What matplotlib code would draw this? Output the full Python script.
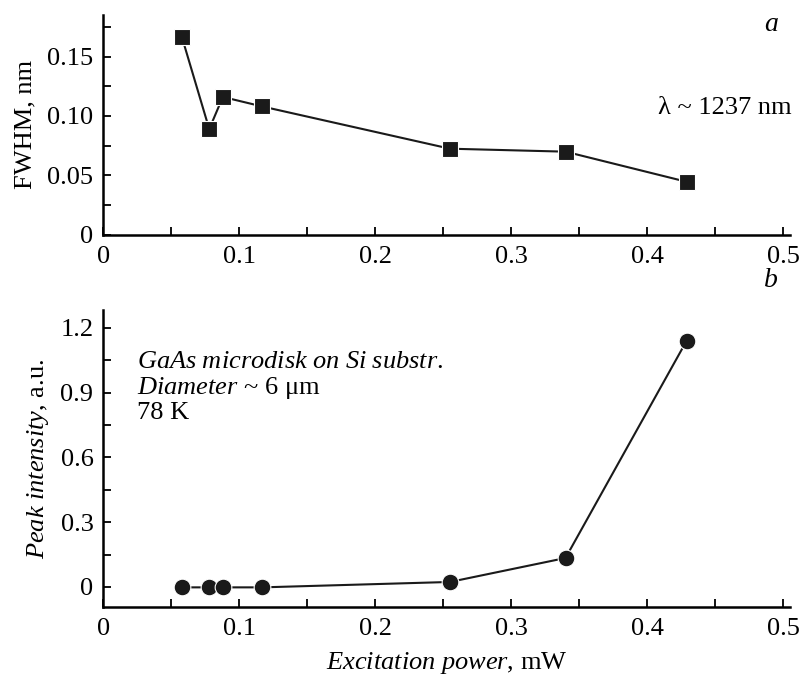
import matplotlib
matplotlib.use("Agg")
import matplotlib.pyplot as plt
from matplotlib.ticker import MultipleLocator

# --- data ---
power = [0.058, 0.078, 0.088, 0.117, 0.255, 0.340, 0.429]
fwhm = [0.166, 0.089, 0.116, 0.108, 0.0725, 0.070, 0.0447]
peak = [-0.002, -0.002, -0.002, -0.002, 0.023, 0.134, 1.14]

plt.rcParams["font.family"] = ["Liberation Serif", "DejaVu Serif"]
plt.rcParams["mathtext.fontset"] = "custom"
plt.rcParams["mathtext.rm"] = "Liberation Serif"
plt.rcParams["mathtext.it"] = "Liberation Serif:italic"
plt.rcParams["font.size"] = 19

fig = plt.figure(figsize=(8.06, 6.77), dpi=100)
ax1 = fig.add_axes([0.128, 0.653, 0.852, 0.325])
ax2 = fig.add_axes([0.128, 0.1034, 0.852, 0.4386])


def style(ax):
    for s in ("top", "right"):
        ax.spines[s].set_visible(False)
    for s in ("left", "bottom"):
        ax.spines[s].set_linewidth(1.8)
    ax.tick_params(which="both", direction="in", length=6, width=1.3, labelsize=19)
    ax.tick_params(axis="x", pad=8)
    ax.tick_params(axis="y", pad=7)
    ax.set_xlim(0, 0.505)
    ax.xaxis.set_major_locator(MultipleLocator(0.1))
    ax.xaxis.set_minor_locator(MultipleLocator(0.05))
    ax.xaxis.set_major_formatter(lambda v, p: "0" if abs(v) < 1e-9 else f"{v:.1f}")


# --- panel a ---
style(ax1)
ax1.plot(power, fwhm, "-", color="#1a1a1a", lw=1.5, marker="s", ms=11,
         markeredgecolor="white", markeredgewidth=0.8)
ax1.set_ylim(0, 0.185)
ax1.yaxis.set_major_locator(MultipleLocator(0.05))
ax1.yaxis.set_minor_locator(MultipleLocator(0.025))
ax1.yaxis.set_major_formatter(lambda v, p: "0" if abs(v) < 1e-9 else f"{v:.2f}")
ax1.set_ylabel("FWHM, nm", fontsize=19, labelpad=8)
ax1.text(0.962, 0.955, "a", transform=ax1.transAxes, style="italic", fontsize=20, va="center")
ax1.text(1.003, 0.577, "λ ~ 1237 nm", transform=ax1.transAxes, ha="right", va="center", fontsize=19)

# --- panel b ---
style(ax2)
ax2.plot(power, peak, "-", color="#1a1a1a", lw=1.5, marker="o", ms=12,
         markeredgecolor="white", markeredgewidth=0.8)
ax2.set_ylim(-0.093, 1.283)
ax2.yaxis.set_major_locator(MultipleLocator(0.3))
ax2.yaxis.set_minor_locator(MultipleLocator(0.15))
ax2.yaxis.set_major_formatter(lambda v, p: "0" if abs(v) < 1e-9 else f"{v:.1f}")
ax2.set_ylabel(r"$\mathit{Peak\ intensity}$, a.u.", fontsize=19, labelpad=7)
ax2.set_xlabel(r"$\mathit{Excitation\ power}$, mW", fontsize=19, labelpad=7)
ax2.text(0.962, 1.10, "b", transform=ax2.transAxes, style="italic", fontsize=20, va="center")
ax2.text(0.049, 0.825, r"$\mathit{GaAs\ microdisk\ on\ Si\ substr.}$", transform=ax2.transAxes, va="center", fontsize=19)
ax2.text(0.049, 0.737, r"$\mathit{Diameter}$ ~ 6 μm", transform=ax2.transAxes, va="center", fontsize=19)
ax2.text(0.049, 0.653, "78 K", transform=ax2.transAxes, va="center", fontsize=19)

fig.savefig("out.png", dpi=100)
